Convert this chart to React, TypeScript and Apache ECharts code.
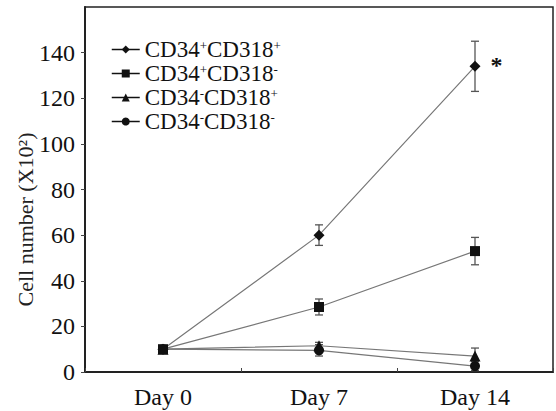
import React, { useEffect, useRef } from "react";
import * as echarts from "echarts";

const days = ["Day 0", "Day 7", "Day 14"];
const seriesNames = ["CD34+CD318+", "CD34+CD318-", "CD34-CD318+", "CD34-CD318-"];
const posPos = [10, 60, 134];
const posNeg = [10, 28.5, 53];
const negPos = [10, 11.5, 7];
const negNeg = [10, 9.5, 2.6];
const errPosPos = [1, 4.5, 11];
const errPosNeg = [1, 3.5, 6];
const errNegPos = [1, 1.5, 3.5];
const errNegNeg = [1, 2.5, 2];
const yTicks = [0, 20, 40, 60, 80, 100, 120, 140, 160];

const FONT = "'Liberation Serif', 'Times New Roman', serif";

const symbols = ["diamond", "rect", "triangle", "circle"];
const symbolSizes = [11, 10, 11, 10];
const values = [posPos, posNeg, negPos, negNeg];
const errors = [errPosPos, errPosNeg, errNegPos, errNegNeg];

function legendText(name: string) {
  const s1 = name.charAt(4);
  const s2 = name.charAt(name.length - 1);
  return `{a|CD34}{s|${s1 === "-" ? "-" : "+"}}{a|CD318}{s|${s2 === "-" ? "-" : "+"}}`;
}

export default function App() {
  const ref = useRef<HTMLDivElement>(null);
  useEffect(() => {
    if (!ref.current) return;
    const chart = echarts.init(ref.current, undefined, { renderer: "svg" });

    const lineSeries = values.map((vals, i) => ({
      name: seriesNames[i],
      type: "line",
      data: vals.map((v, j) =>
        i === 0 && j === 2
          ? {
              value: v,
              label: {
                show: true,
                formatter: "*",
                position: "right",
                distance: 10,
                offset: [0, -1],
                fontSize: 24,
                fontWeight: "bold",
                fontFamily: FONT,
                color: "#111",
              },
            }
          : v
      ),
      symbol: symbols[i],
      symbolSize: symbolSizes[i],
      showAllSymbol: true,
      itemStyle: { color: "#111" },
      lineStyle: { color: "#777", width: 1.2 },
      z: 5,
    }));

    const errSeries = errors.map((errs, i) => ({
      name: "err" + i,
      type: "custom",
      data: errs.map((e, j) => [j, values[i][j] - e, values[i][j] + e]),
      renderItem: (params: any, api: any) => {
        const x = api.value(0);
        const lo = api.coord([x, api.value(1)]);
        const hi = api.coord([x, api.value(2)]);
        const w = 4;
        const style = { stroke: "#555", lineWidth: 1.3 };
        return {
          type: "group",
          children: [
            { type: "line", shape: { x1: lo[0], y1: lo[1], x2: hi[0], y2: hi[1] }, style },
            { type: "line", shape: { x1: lo[0] - w, y1: lo[1], x2: lo[0] + w, y2: lo[1] }, style },
            { type: "line", shape: { x1: hi[0] - w, y1: hi[1], x2: hi[0] + w, y2: hi[1] }, style },
          ],
        };
      },
      z: 4,
    }));

    chart.setOption({
      animation: false,
      backgroundColor: "#fff",
      grid: {
        left: 85,
        right: 3,
        top: 7,
        bottom: 39,
        show: true,
        borderColor: "#222",
        borderWidth: 1.5,
        backgroundColor: "transparent",
      },
      legend: {
        data: seriesNames,
        orient: "vertical",
        left: 106,
        top: 33,
        itemWidth: 28,
        itemHeight: 10,
        itemGap: 1,
        lineStyle: { color: "#111", width: 1.5 },
        itemStyle: { color: "#111" },
        formatter: (name: string) => legendText(name),
        textStyle: {
          fontFamily: FONT,
          color: "#111",
          rich: {
            a: { fontSize: 23, fontFamily: FONT, color: "#111", lineHeight: 22 },
            s: { fontSize: 13, fontFamily: FONT, color: "#111", verticalAlign: "top", lineHeight: 22 },
          },
        },
      },
      xAxis: {
        type: "category",
        data: days,
        boundaryGap: true,
        axisLine: { lineStyle: { color: "#222", width: 2 } },
        axisTick: { show: true, inside: true, length: 4, lineStyle: { color: "#444" } },
        axisLabel: { fontSize: 24, fontFamily: FONT, color: "#111", margin: 13 },
        splitLine: { show: false },
      },
      yAxis: {
        type: "value",
        min: yTicks[0],
        max: yTicks[yTicks.length - 1],
        interval: yTicks[1] - yTicks[0],
        name: "Cell number (X10²)",
        nameLocation: "middle",
        nameRotate: 90,
        nameGap: 49,
        nameMoveOverlap: false,
        nameTextStyle: { fontSize: 22, fontFamily: FONT, color: "#222", padding: [0, 60, 0, 0] },
        axisLine: { show: true, lineStyle: { color: "#222", width: 2 } },
        axisTick: { show: true, inside: false, length: 4, lineStyle: { color: "#444" } },
        axisLabel: {
          fontSize: 24,
          fontFamily: FONT,
          color: "#111",
          margin: 10,
          showMaxLabel: false,
        },
        splitLine: { show: false },
      },
      series: [...errSeries, ...lineSeries],
    });
    return () => chart.dispose();
  }, []);
  return (
    <div
      ref={ref}
      style={{ position: "fixed", left: 0, top: 0, width: 556, height: 411, background: "#fff" }}
    />
  );
}
